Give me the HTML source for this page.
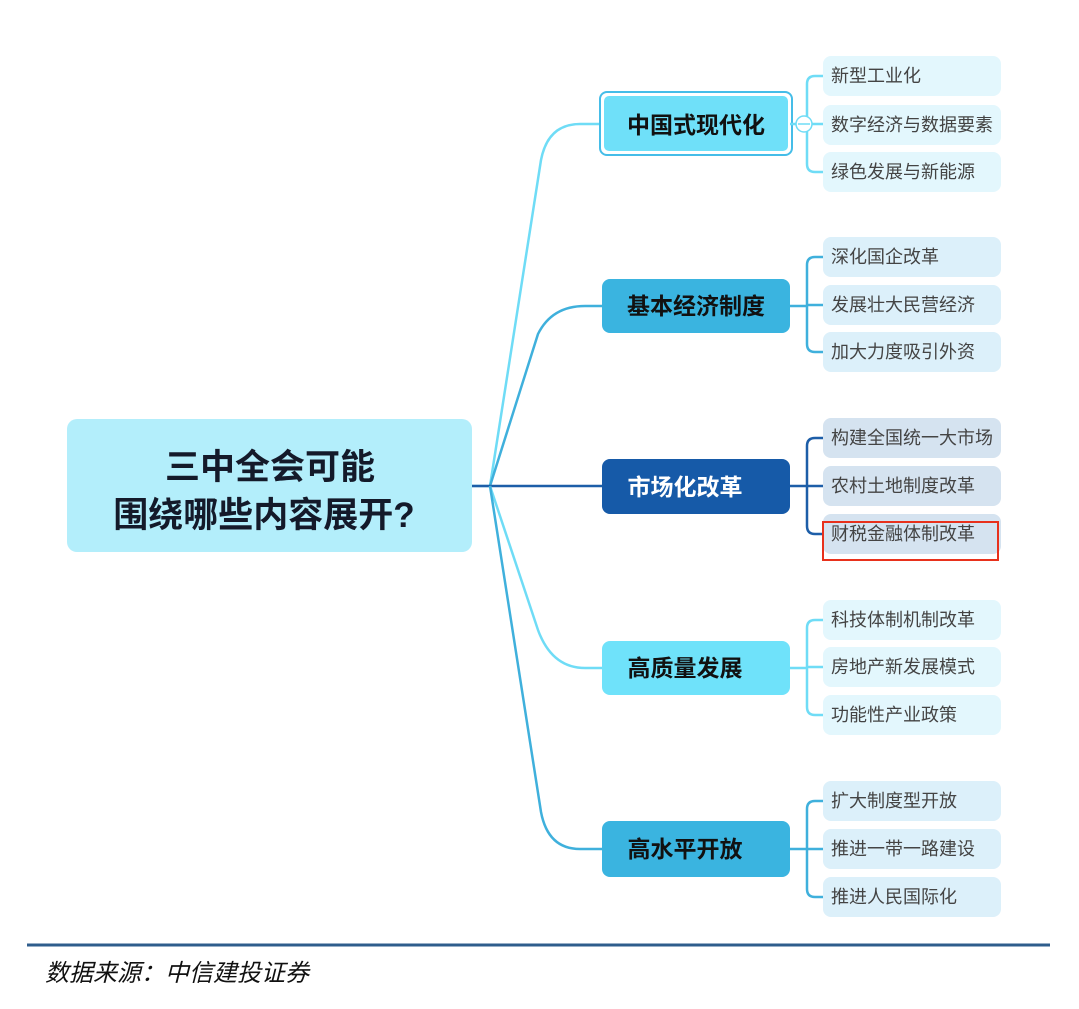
<!DOCTYPE html>
<html><head><meta charset="utf-8"><style>
html,body{margin:0;padding:0;background:#fff;}
svg{display:block;}
text{font-family:"Liberation Sans","Noto Sans CJK SC",sans-serif;}
</style></head><body>
<svg width="1079" height="1009" viewBox="0 0 1079 1009" xmlns="http://www.w3.org/2000/svg">
<g fill="none" stroke-width="2.5">
<path d="M472,486 L490,486 L541,160 Q548,124 580,124 L602,124" stroke="#6fdcf6"/>
<path d="M490,486 L538,334 Q552,306 585,306 L602,306" stroke="#3fb0dc"/>
<path d="M472,486 L602,486" stroke="#1d5ea8"/>
<path d="M490,486 L538,630 Q552,668 585,668 L602,668" stroke="#6fdcf6"/>
<path d="M490,486 L541,812 Q548,849 580,849 L602,849" stroke="#3fb0dc"/>
</g>
<rect x="67" y="419" width="405" height="133" rx="10" fill="#b3eefb"/>
<text x="270" y="479" font-size="35" font-weight="bold" fill="#141a2a" text-anchor="middle">三中全会可能</text>
<text x="264" y="527" font-size="35" font-weight="bold" fill="#141a2a" text-anchor="middle">围绕哪些内容展开?</text>

<rect x="600" y="92" width="192" height="63" rx="7" fill="#fff" stroke="#45bde8" stroke-width="2"/>
<rect x="604" y="96" width="184" height="55" rx="5" fill="#6fe0f9"/>
<text x="696" y="133" font-size="23" font-weight="bold" fill="#111" text-anchor="middle">中国式现代化</text>
<rect x="602" y="279" width="188" height="54" rx="8" fill="#3ab4e0"/>
<text x="696" y="314" font-size="23" font-weight="bold" fill="#111" text-anchor="middle">基本经济制度</text>
<rect x="602" y="459" width="188" height="55" rx="8" fill="#165aa8"/>
<text x="685" y="495" font-size="23" font-weight="bold" fill="#fff" text-anchor="middle">市场化改革</text>
<rect x="602" y="641" width="188" height="54" rx="8" fill="#6fe2fa"/>
<text x="685" y="676" font-size="23" font-weight="bold" fill="#111" text-anchor="middle">高质量发展</text>
<rect x="602" y="821" width="188" height="56" rx="8" fill="#3ab4e0"/>
<text x="685" y="857" font-size="23" font-weight="bold" fill="#111" text-anchor="middle">高水平开放</text>

<g fill="none" stroke-width="2.5">
<path d="M790,124 L807,124 M823,76 L815,76 Q807,76 807,84 L807,164 Q807,172 815,172 L823,172 M807,124 L823,124" stroke="#6fdcf6"/>
<path d="M790,306 L807,306 M823,257 L815,257 Q807,257 807,265 L807,344 Q807,352 815,352 L823,352 M807,305 L823,305" stroke="#3fb0dc"/>
<path d="M790,486 L807,486 M823,438 L815,438 Q807,438 807,446 L807,526 Q807,534 815,534 L823,534 M807,486 L823,486" stroke="#1d5ea8"/>
<path d="M790,668 L807,668 M823,620 L815,620 Q807,620 807,628 L807,707 Q807,715 815,715 L823,715 M807,667 L823,667" stroke="#6fdcf6"/>
<path d="M790,849 L807,849 M823,801 L815,801 Q807,801 807,809 L807,889 Q807,897 815,897 L823,897 M807,849 L823,849" stroke="#3fb0dc"/>
</g>
<circle cx="804" cy="124" r="8" fill="#fff" stroke="#6fdcf6" stroke-width="1.5"/>
<line x1="798" y1="124" x2="810" y2="124" stroke="#6fdcf6" stroke-width="1.5"/>

<g>
<rect x="823" y="56" width="178" height="40" rx="8" fill="#e3f7fd"/>
<rect x="823" y="105" width="178" height="40" rx="8" fill="#e3f7fd"/>
<rect x="823" y="152" width="178" height="40" rx="8" fill="#e3f7fd"/>
<rect x="823" y="237" width="178" height="40" rx="8" fill="#dcf0fa"/>
<rect x="823" y="285" width="178" height="40" rx="8" fill="#dcf0fa"/>
<rect x="823" y="332" width="178" height="40" rx="8" fill="#dcf0fa"/>
<rect x="823" y="418" width="178" height="40" rx="8" fill="#d5e3f0"/>
<rect x="823" y="466" width="178" height="40" rx="8" fill="#d5e3f0"/>
<rect x="823" y="514" width="178" height="40" rx="8" fill="#d5e3f0"/>
<rect x="823" y="600" width="178" height="40" rx="8" fill="#e3f7fd"/>
<rect x="823" y="647" width="178" height="40" rx="8" fill="#e3f7fd"/>
<rect x="823" y="695" width="178" height="40" rx="8" fill="#e3f7fd"/>
<rect x="823" y="781" width="178" height="40" rx="8" fill="#dcf0fa"/>
<rect x="823" y="829" width="178" height="40" rx="8" fill="#dcf0fa"/>
<rect x="823" y="877" width="178" height="40" rx="8" fill="#dcf0fa"/>
</g>
<rect x="823" y="522" width="175" height="38" fill="none" stroke="#e8311c" stroke-width="2"/>
<g font-size="18" fill="#444">
<text x="831" y="82">新型工业化</text>
<text x="831" y="131">数字经济与数据要素</text>
<text x="831" y="178">绿色发展与新能源</text>
<text x="831" y="263">深化国企改革</text>
<text x="831" y="311">发展壮大民营经济</text>
<text x="831" y="358">加大力度吸引外资</text>
<text x="831" y="444">构建全国统一大市场</text>
<text x="831" y="492">农村土地制度改革</text>
<text x="831" y="540">财税金融体制改革</text>
<text x="831" y="626">科技体制机制改革</text>
<text x="831" y="673">房地产新发展模式</text>
<text x="831" y="721">功能性产业政策</text>
<text x="831" y="807">扩大制度型开放</text>
<text x="831" y="855">推进一带一路建设</text>
<text x="831" y="903">推进人民国际化</text>
</g>

<line x1="27" y1="945" x2="1050" y2="945" stroke="#2f5d8c" stroke-width="3"/>
<text x="45" y="981" font-size="24" font-style="italic" fill="#111" font-family="'Liberation Serif','Noto Serif CJK SC',serif">数据来源：中信建投证券</text>
</svg>
</body></html>
